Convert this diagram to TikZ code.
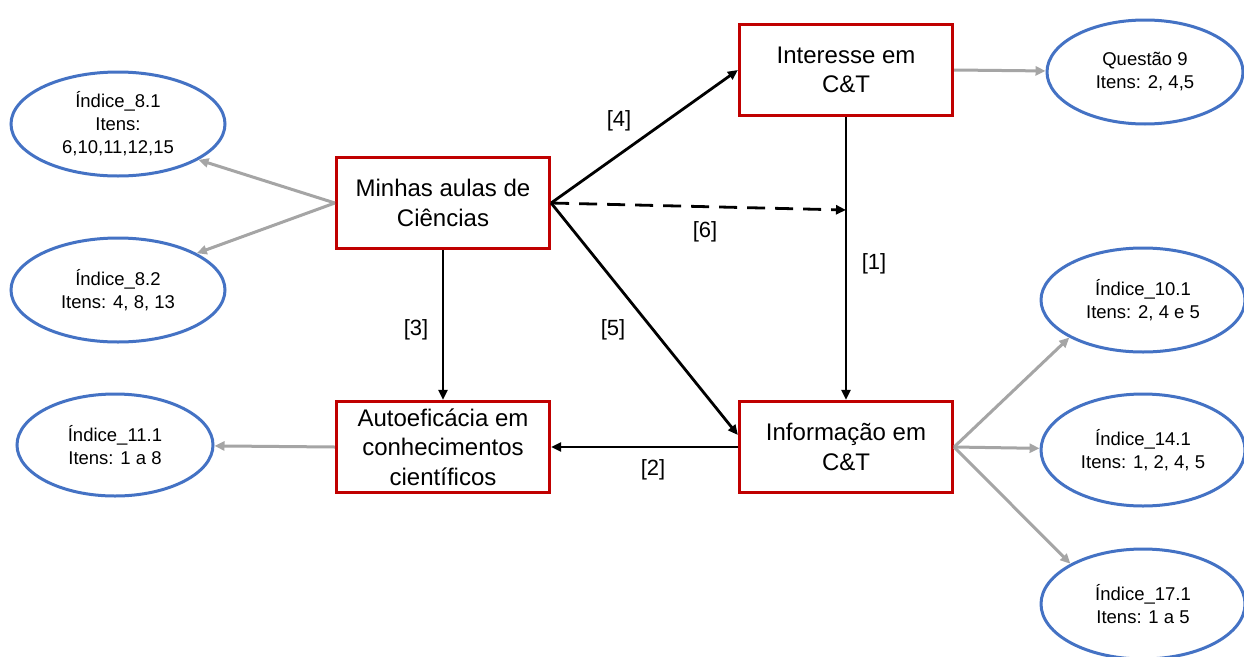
\documentclass[tikz,border=0pt]{standalone}
\usepackage{fontspec}
\setmainfont{Liberation Sans}
\usetikzlibrary{arrows.meta,shapes.geometric}
\definecolor{boxred}{HTML}{C00000}
\definecolor{ellblue}{HTML}{4472C4}
\definecolor{arrgray}{HTML}{A5A5A5}
\begin{document}
\begin{tikzpicture}[x=1pt,y=-1pt,
  box/.style={draw=boxred,line width=3.2pt,minimum width=213pt,minimum height=91pt,align=center,font=\fontsize{24}{29.5}\selectfont,inner sep=2pt},
  ell/.style={draw=ellblue,line width=3pt,ellipse,align=center,font=\fontsize{18.5}{23}\selectfont,inner sep=0pt},
  garrow/.style={draw=arrgray,line width=3pt,-{Triangle[length=10pt,width=9pt]}},
  barrow/.style={draw=black,line width=2.8pt,-{Triangle[length=10pt,width=9pt]}},
  lab/.style={font=\fontsize{22}{26}\selectfont,inner sep=0pt}
]
\useasboundingbox[fill=white] (0,0) rectangle (1244,656);

% boxes
\node[box] (int) at (846,70) {Interesse em\\C\&T};
\node[box] (m)   at (443,203) {Minhas aulas de\\Ciências};
\node[box] (a)   at (443,447) {Autoeficácia em\\conhecimentos\\científicos};
\node[box] (inf) at (846,447) {Informação em\\C\&T};

% ellipses
\node[ell,minimum width=214pt,minimum height=104pt] (e81) at (118,124) {Índice\_8.1\\Itens:\\6,10,11,12,15};
\node[ell,minimum width=214pt,minimum height=104pt] (e82) at (118,290) {Índice\_8.2\\Itens: 4, 8, 13};
\node[ell,minimum width=196pt,minimum height=102pt] (e111) at (115,445) {Índice\_11.1\\Itens: 1 a 8};
\node[ell,minimum width=196pt,minimum height=104pt] (q9) at (1145,72) {Questão 9\\Itens: 2, 4,5};
\node[ell,minimum width=204pt,minimum height=104pt] (e101) at (1143,300) {Índice\_10.1\\Itens: 2, 4 e 5};
\node[ell,minimum width=204pt,minimum height=112pt] (e141) at (1143,450) {Índice\_14.1\\Itens: 1, 2, 4, 5};
\node[ell,minimum width=204pt,minimum height=110pt] (e171) at (1143,604) {Índice\_17.1\\Itens: 1 a 5};

% gray arrows
\draw[garrow] (int.east) -- (q9);
\draw[garrow] (m.west) -- (e81.336);
\draw[garrow] (m.west) -- (e82.25);
\draw[garrow] (a.west) -- (e111);
\draw[garrow] (inf.east) -- (e101.207);
\draw[garrow] (inf.east) -- (e141);
\draw[garrow] (inf.east) -- (e171.151);

% black arrows
\coordinate (d) at (846,210);
\draw[barrow] (m.east) -- (int.west);
\draw[barrow] (m.east) -- ([yshift=12pt]inf.west);
\draw[barrow,dashed,dash pattern=on 18pt off 10pt] (m.east) -- (d);
\draw[barrow] (int.south) -- (inf.north);
\draw[barrow] (m.south) -- (a.north);
\draw[barrow] (inf.west) -- (a.east);

% labels
\node[lab] (l4) at (619,121) {[4]};
\node[lab] (l6) at (705,232) {[6]};
\node[lab] (l1) at (874,264) {[1]};
\node[lab] (l3) at (416,330) {[3]};
\node[lab] (l5) at (613,330) {[5]};
\node[lab] (l2) at (653,470) {[2]};
\end{tikzpicture}
\end{document}
